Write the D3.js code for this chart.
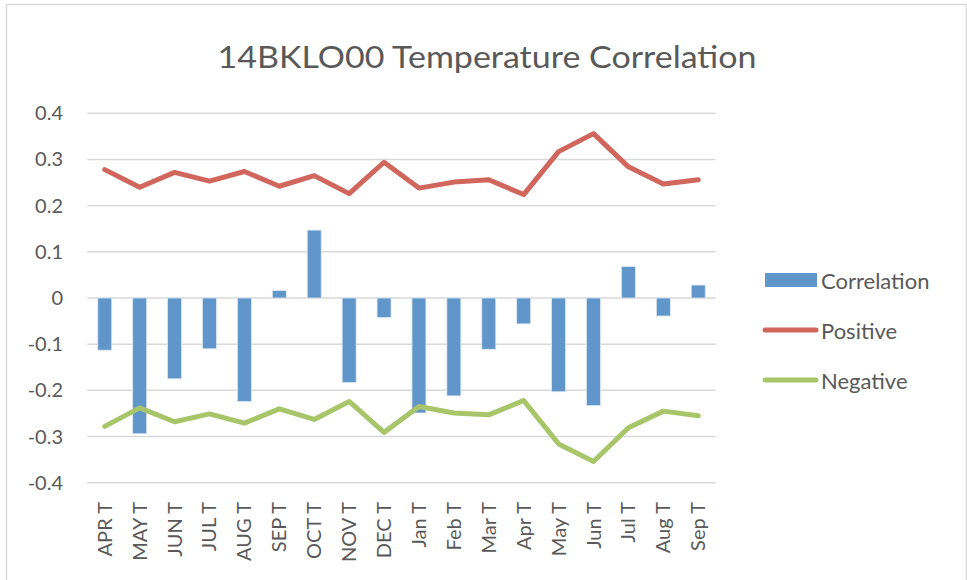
<!DOCTYPE html>
<html lang="en">
<head>
<meta charset="UTF-8">
<title>14BKLO00 Temperature Correlation</title>
<script src="https://d3js.org/d3.v7.min.js"></script>
<style>
  body { margin: 0; background: #fff; }
  text { font-family: Lato, "Open Sans", sans-serif; fill: #595959; }
</style>
</head>
<body>
<div id="chart"></div>
<script>
// data
var months = ["APR T","MAY T","JUN T","JUL T","AUG T","SEP T","OCT T","NOV T","DEC T",
              "Jan T","Feb T","Mar T","Apr T","May T","Jun T","Jul T","Aug T","Sep T"]
var correlation = [-0.113,-0.294,-0.175,-0.110,-0.224,0.016,0.147,-0.183,-0.042,
                   -0.249,-0.212,-0.111,-0.056,-0.203,-0.233,0.068,-0.039,0.028]
var positive = [0.278,0.240,0.272,0.253,0.274,0.242,0.265,0.226,0.294,
                0.238,0.251,0.256,0.224,0.317,0.356,0.284,0.247,0.256]
var negative = [-0.278,-0.238,-0.268,-0.251,-0.271,-0.240,-0.263,-0.224,-0.291,
                -0.235,-0.249,-0.253,-0.222,-0.316,-0.354,-0.281,-0.245,-0.255]
var yTicks = [0.4,0.3,0.2,0.1,0,-0.1,-0.2,-0.3,-0.4]

var width = 967, height = 580
var plotLeft = 87.3, plotRight = 715.7, plotTop = 113.3, plotBottom = 482.7

var svg = d3.select("#chart").append("svg")
    .attr("width", width)
    .attr("height", height)

// outer chart border
svg.append("rect")
    .attr("x", 6.5).attr("y", 4.5)
    .attr("width", 960).attr("height", 580)
    .attr("fill", "none")
    .attr("stroke", "#d9d9d9")
    .attr("stroke-width", 1.5)

var x = d3.scaleBand().domain(months).range([plotLeft, plotRight]).paddingInner(0.6).paddingOuter(0.3)
var y = d3.scaleLinear().domain([-0.4, 0.4]).range([plotBottom, plotTop])
var cx = function(d) { return x(d) + x.bandwidth() / 2 }

// title
svg.append("text")
    .attr("x", 487).attr("y", 68)
    .attr("text-anchor", "middle")
    .attr("font-size", 31)
    .attr("textLength", 539)
    .attr("lengthAdjust", "spacingAndGlyphs")
    .text("14BKLO00 Temperature Correlation")

// gridlines + y labels
svg.append("g").selectAll("line")
    .data(yTicks).enter().append("line")
    .attr("x1", plotLeft).attr("x2", plotRight)
    .attr("y1", function(d) { return y(d) }).attr("y2", function(d) { return y(d) })
    .attr("stroke", "#d9d9d9")
    .attr("stroke-width", 1.5)

svg.append("g").selectAll("text")
    .data(yTicks).enter().append("text")
    .attr("x", 63)
    .attr("y", function(d) { return y(d) })
    .attr("dy", "0.35em")
    .attr("text-anchor", "end")
    .attr("font-size", 20)
    .text(function(d) { return String(d) })   // plain hyphen like excel

// bars
svg.append("g").selectAll("rect")
    .data(correlation).enter().append("rect")
    .attr("x", function(d, i) { return x(months[i]) })
    .attr("width", x.bandwidth())
    .attr("y", function(d) { return y(Math.max(0, d)) })
    .attr("height", function(d) { return Math.abs(y(d) - y(0)) })
    .attr("fill", "#6096c9")
    .attr("stroke", "#dbe6f2")
    .attr("stroke-width", 0.8)

// lines
var line = d3.line()
    .x(function(d, i) { return cx(months[i]) })
    .y(function(d) { return y(d) })

svg.append("path").datum(positive)
    .attr("d", line)
    .attr("fill", "none")
    .attr("stroke", "#d0665c")
    .attr("stroke-width", 5)
    .attr("stroke-linejoin", "round")
    .attr("stroke-linecap", "round")

svg.append("path").datum(negative)
    .attr("d", line)
    .attr("fill", "none")
    .attr("stroke", "#a8c56a")
    .attr("stroke-width", 5)
    .attr("stroke-linejoin", "round")
    .attr("stroke-linecap", "round")

// x labels
svg.append("g").selectAll("text")
    .data(months).enter().append("text")
    .attr("transform", function(d) { return "translate(" + cx(d) + ",502) rotate(-90)" })
    .attr("dy", "0.35em")
    .attr("text-anchor", "end")
    .attr("font-size", 20)
    .text(function(d) { return d })

// legend
var legend = svg.append("g")
legend.append("rect")
    .attr("x", 765).attr("y", 273)
    .attr("width", 52).attr("height", 14)
    .attr("fill", "#6096c9")
legend.append("line")
    .attr("x1", 765).attr("x2", 816).attr("y1", 330).attr("y2", 330)
    .attr("stroke", "#d0665c").attr("stroke-width", 5).attr("stroke-linecap", "round")
legend.append("line")
    .attr("x1", 765).attr("x2", 816).attr("y1", 380).attr("y2", 380)
    .attr("stroke", "#a8c56a").attr("stroke-width", 5).attr("stroke-linecap", "round")

var legendNames = ["Correlation", "Positive", "Negative"]
legend.selectAll("text.lbl")
    .data(legendNames).enter().append("text")
    .attr("class", "lbl")
    .attr("x", 821)
    .attr("y", function(d, i) { return 281 + i * 50 })
    .attr("dy", "0.35em")
    .attr("font-size", 22)
    .text(function(d) { return d })
</script>
</body>
</html>
